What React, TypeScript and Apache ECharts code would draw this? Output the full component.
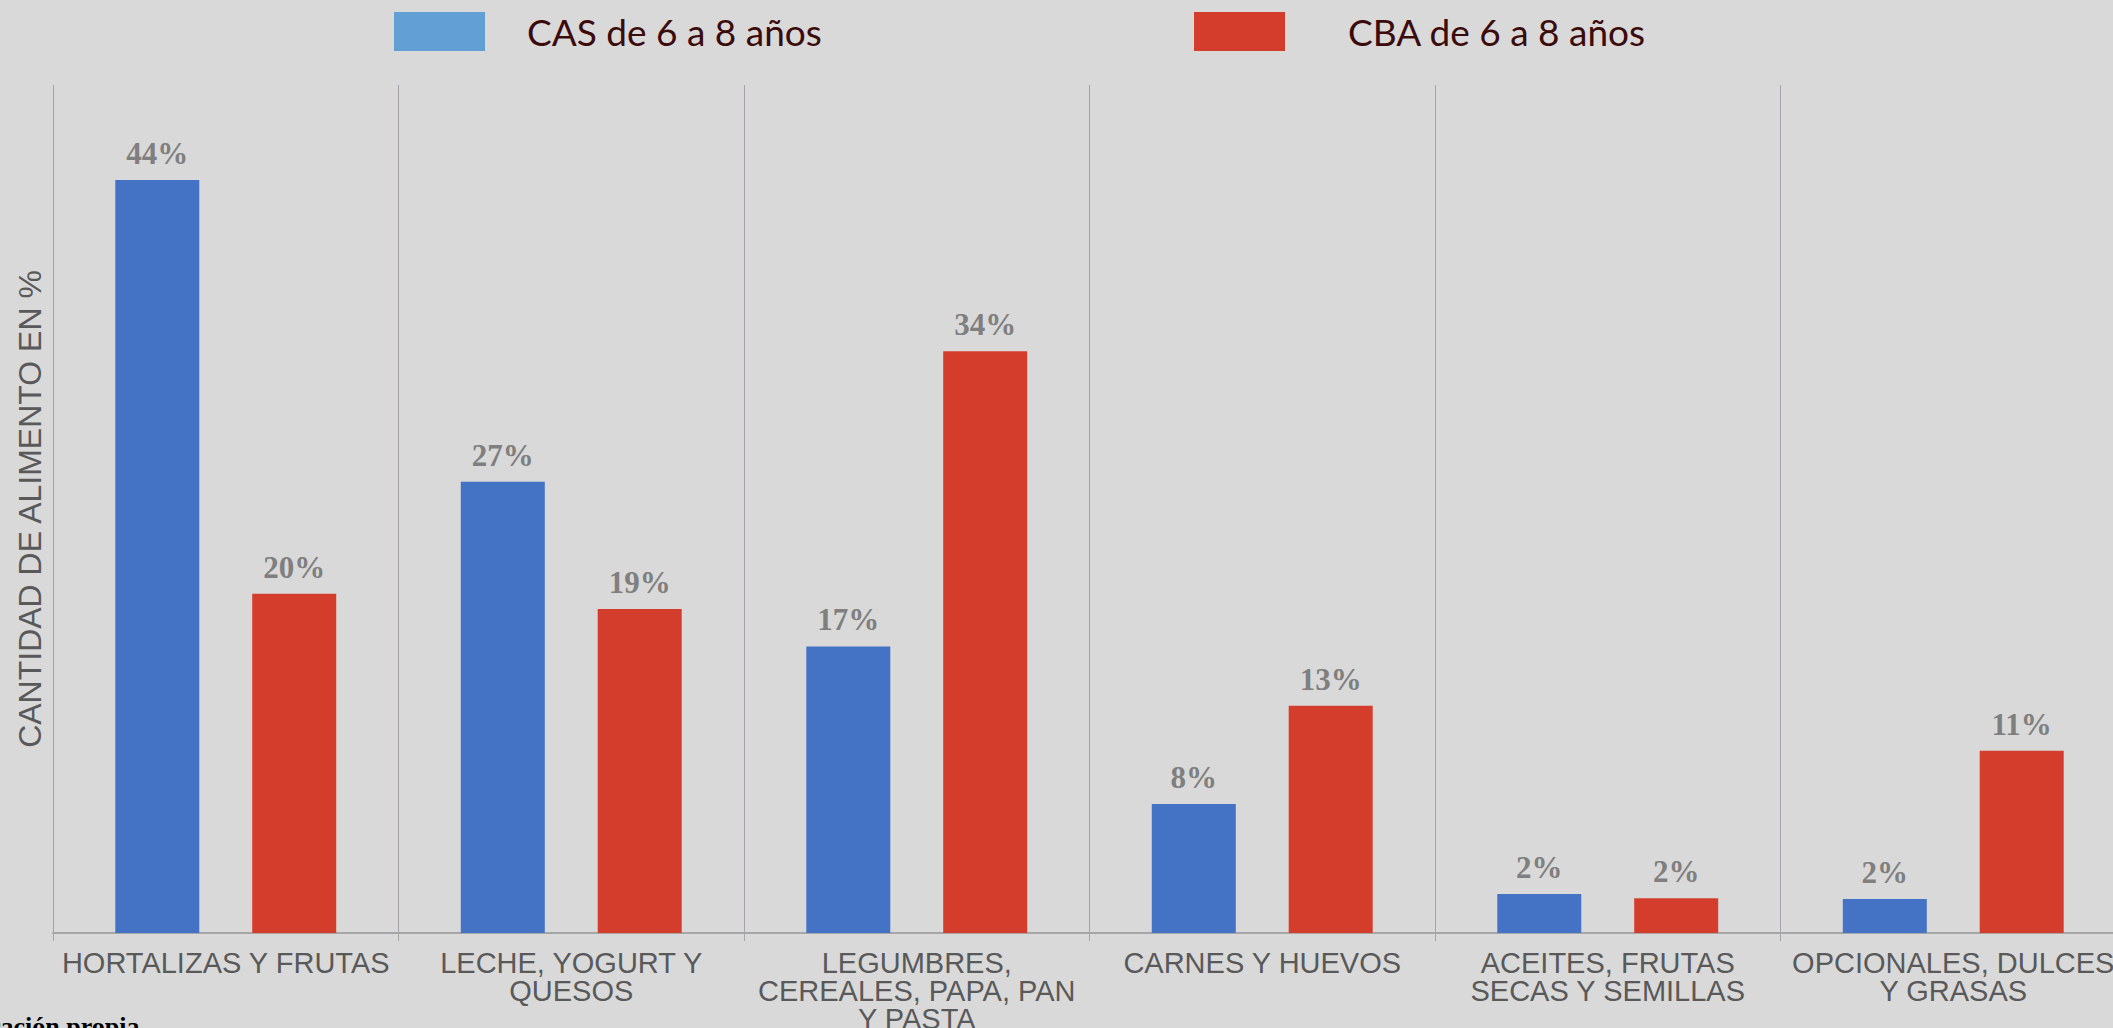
import React, { useEffect, useRef } from "react";
import * as echarts from "echarts";

const categories = [
  "HORTALIZAS Y FRUTAS",
  "LECHE, YOGURT Y QUESOS",
  "LEGUMBRES, CEREALES, PAPA, PAN Y PASTA",
  "CARNES Y HUEVOS",
  "ACEITES, FRUTAS SECAS Y SEMILLAS",
  "OPCIONALES, DULCES Y GRASAS",
];
const casValues = [44.4, 26.6, 16.9, 7.6, 2.3, 2.0];
const cbaValues = [20.0, 19.1, 34.3, 13.4, 2.05, 10.75];
const seriesNames = ["CAS de 6 a 8 años", "CBA de 6 a 8 años"];
const yAxisTitle = "CANTIDAD DE ALIMENTO EN %";
const sourceNote = "Elaboración propia";
const yMin = 0;
const yMax = 50;

function wrap(label: string): string {
  const words = label.split(" ");
  const lines: string[] = [];
  let cur = "";
  for (const w of words) {
    const next = cur ? cur + " " + w : w;
    if (next.length > 19 && cur) {
      lines.push(cur);
      cur = w;
    } else {
      cur = next;
    }
  }
  if (cur) lines.push(cur);
  return lines.join("\n");
}

export default function App() {
  const ref = useRef<HTMLDivElement>(null);

  useEffect(() => {
    if (!ref.current) return;
    const chart = echarts.init(ref.current, null, { renderer: "svg" });
    const labelStyle = {
      show: true,
      position: "top" as const,
      distance: 11,
      fontFamily: "Liberation Serif",
      fontWeight: "bold" as const,
      fontSize: 31,
      color: "#7f7f7f",
      formatter: (p: any) => Math.round(p.value) + "%",
    };
    chart.setOption({
      animation: false,
      backgroundColor: "#d9d9d9",
      legend: [
        {
          left: 394,
          top: 12,
          padding: 0,
          itemWidth: 91,
          itemHeight: 39,
          icon: "rect",
          selectedMode: false,
          data: [{ name: seriesNames[0], itemStyle: { color: "#619fd4" } }],
          textStyle: {
            fontFamily: "Lato",
            fontSize: 37,
            color: "#3b0a0a",
            padding: [0, 0, 0, 37],
          },
        },
        {
          left: 1194,
          top: 12,
          padding: 0,
          itemWidth: 91,
          itemHeight: 39,
          icon: "rect",
          selectedMode: false,
          data: [{ name: seriesNames[1], itemStyle: { color: "#d43d2b" } }],
          textStyle: {
            fontFamily: "Lato",
            fontSize: 37,
            color: "#3b0a0a",
            padding: [0, 0, 0, 58],
          },
        },
      ],
      grid: {
        left: 53,
        top: 85,
        width: 2073,
        bottom: 95,
        containLabel: false,
        outerBoundsMode: "none",
      },
      xAxis: {
        type: "category",
        data: categories,
        axisLine: { show: true, lineStyle: { color: "#a6a6a6", width: 2 } },
        axisTick: { show: true, interval: 0, length: 8, lineStyle: { color: "#a6a6a6", width: 1 } },
        splitLine: { show: true, interval: 0, lineStyle: { color: "#a6a1ab", width: 1 } },
        axisLabel: {
          interval: 0,
          margin: 16,
          formatter: wrap,
          color: "#595959",
          fontFamily: "Liberation Sans",
          fontSize: 29,
          lineHeight: 28,
          hideOverlap: false,
        },
      },
      yAxis: {
        type: "value",
        min: yMin,
        max: yMax,
        axisLine: { show: false },
        axisTick: { show: false },
        axisLabel: { show: false },
        splitLine: { show: false },
        name: yAxisTitle,
        nameLocation: "middle",
        nameRotate: 90,
        nameGap: 7,
        nameTextStyle: {
          fontFamily: "Liberation Sans",
          fontSize: 32,
          color: "#595959",
        },
      },
      series: [
        {
          name: seriesNames[0],
          type: "bar",
          data: casValues,
          barWidth: 84,
          barGap: "63%",
          itemStyle: { color: "#4472c4" },
          label: labelStyle,
        },
        {
          name: seriesNames[1],
          type: "bar",
          data: cbaValues,
          barWidth: 84,
          barGap: "63%",
          itemStyle: { color: "#d43d2b" },
          label: labelStyle,
        },
      ],
      graphic: [
        {
          type: "text",
          left: -76,
          top: 1013,
          style: {
            text: sourceNote,
            fontFamily: "Liberation Serif",
            fontSize: 26,
            fontWeight: "bold",
            fill: "#000000",
          },
        },
      ],
    });
    return () => chart.dispose();
  }, []);

  return (
    <div
      ref={ref}
      style={{ position: "fixed", left: 0, top: 0, width: 2113, height: 1028 }}
    />
  );
}
